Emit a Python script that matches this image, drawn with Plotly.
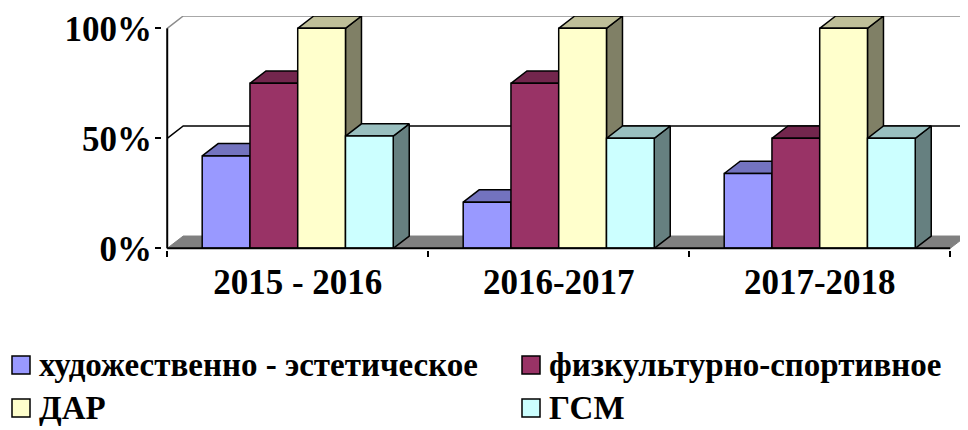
import plotly.graph_objects as go

# ---------------- data ----------------
categories = ["2015 - 2016", "2016-2017", "2017-2018"]
series_names = ["художественно - эстетическое", "физкультурно-спортивное", "ДАР", "ГСМ"]
art_values = [42, 21, 34]
sport_values = [75, 75, 50]
dar_values = [100, 100, 100]
gsm_values = [51, 50, 50]
y_tick_values = [0, 50, 100]
y_tick_labels = ["0%", "50%", "100%"]

series_values = [art_values, sport_values, dar_values, gsm_values]

# ---------------- style ----------------
front_colors = ["#9999FF", "#993366", "#FFFFCC", "#CCFFFF"]
top_colors = ["#7373BF", "#73264D", "#BFBF99", "#99BFBF"]
side_colors = ["#4D4D80", "#4D1A33", "#808066", "#668080"]
FONT = "Liberation Serif, DejaVu Serif Condensed, DejaVu Serif, serif"
PAGE_OFF = 8                      # default body margin of the html page
W, H = 968 - PAGE_OFF, 430 - PAGE_OFF
ML, MR, MT, MB = 162 - PAGE_OFF, 2, 16 - PAGE_OFF, 180
PW, PH = W - ML - MR, H - MT - MB
DX = 16 / 261.0      # depth offset in x units
DY = 12.3 / 2.2      # depth offset in y units
GROUP_W = 0.732
BAR_W = GROUP_W / 4
EDGE = dict(color="black", width=1.5)


def px_to_paper_x(px):
    return (px - PAGE_OFF - ML) / PW


def px_to_paper_y(py):
    return (H - MB - (py - PAGE_OFF)) / PH


fig = go.Figure()

n_cat = len(categories)
x_left = -0.5
x_right = n_cat - 0.5

# floor
fig.add_trace(go.Scatter(
    x=[x_left, x_right, x_right + DX, x_left + DX, x_left],
    y=[0, 0, DY, DY, 0],
    mode="lines", fill="toself", fillcolor="#808080",
    line=dict(color="#808080", width=1), hoverinfo="skip", showlegend=False))

# back wall gridlines and left wall diagonals
for v in y_tick_values[1:]:
    col = "black" if v < max(y_tick_values) else "#8c8c8c"
    fig.add_trace(go.Scatter(
        x=[x_left, x_left + DX, x_right + DX],
        y=[v, v + DY, v + DY],
        mode="lines", line=dict(color=col, width=1.5),
        hoverinfo="skip", showlegend=False))


def poly_trace(xs, ys, color, name):
    return go.Scatter(x=xs, y=ys, mode="lines", fill="toself", fillcolor=color,
                      line=EDGE, hoverinfo="skip", showlegend=False, name=name)


# bars (side, top, front) series by series so later bars cover earlier sides
for i, vals in enumerate(series_values):
    sx, sy, tx, ty, fx, fy = [], [], [], [], [], []
    for j, v in enumerate(vals):
        x0 = j - GROUP_W / 2 + i * BAR_W
        x1 = x0 + BAR_W
        sx += [x1, x1, x1 + DX, x1 + DX, x1, None]
        sy += [0, v, v + DY, DY, 0, None]
        tx += [x0, x1, x1 + DX, x0 + DX, x0, None]
        ty += [v, v, v + DY, v + DY, v, None]
        fx += [x0, x1, x1, x0, x0, None]
        fy += [0, 0, v, v, 0, None]
    fig.add_trace(poly_trace(sx, sy, side_colors[i], series_names[i]))
    fig.add_trace(poly_trace(tx, ty, top_colors[i], series_names[i]))
    fig.add_trace(poly_trace(fx, fy, front_colors[i], series_names[i]))

# front axis lines
fig.add_trace(go.Scatter(x=[x_left, x_left], y=[0, max(y_tick_values)], mode="lines",
                         line=dict(color="black", width=2), hoverinfo="skip", showlegend=False))
fig.add_trace(go.Scatter(x=[x_left, x_right], y=[0, 0], mode="lines",
                         line=dict(color="black", width=2), hoverinfo="skip", showlegend=False))

# legend (2 x 2 grid): swatch + text
legend_cols = [12, 522]   # swatch left edge, page px
legend_rows = [365, 408]  # row centre, page px
SW = 18
for i, name in enumerate(series_names):
    lx = legend_cols[i % 2]
    ly = legend_rows[i // 2]
    fig.add_shape(type="rect", xref="paper", yref="paper",
                  x0=px_to_paper_x(lx), x1=px_to_paper_x(lx + SW),
                  y0=px_to_paper_y(ly + SW / 2), y1=px_to_paper_y(ly - SW / 2),
                  fillcolor=front_colors[i], line=dict(color="black", width=1.5))
    fig.add_annotation(xref="paper", yref="paper",
                       x=px_to_paper_x(lx + 25), y=px_to_paper_y(ly),
                       xanchor="left", yanchor="middle", showarrow=False,
                       text=name,
                       font=dict(family=FONT, size=33, color="black", weight="bold"))

fig.update_layout(
    width=W, height=H,
    margin=dict(l=ML, r=MR, t=MT, b=MB),
    paper_bgcolor="white", plot_bgcolor="white",
    font=dict(family=FONT, color="black"),
    xaxis=dict(
        range=[-0.52, 2.5605],
        tickvals=list(range(n_cat)), ticktext=categories,
        ticks="", showgrid=False, zeroline=False, showline=False,
        tickfont=dict(family=FONT, size=35, color="black", weight="bold"),
        ticklabelstandoff=8,
        minor=dict(tickvals=[k - 0.5 for k in range(n_cat + 1)], ticks="outside",
                   ticklen=6, tickwidth=2, tickcolor="black", showgrid=False),
    ),
    yaxis=dict(
        range=[-0.76, 105.6],
        tickvals=y_tick_values, ticktext=y_tick_labels,
        ticks="outside", ticklen=6, tickwidth=2, tickcolor="black",
        showgrid=False, zeroline=False, showline=False,
        tickfont=dict(family=FONT, size=35, color="black", weight="bold"),
        ticklabelstandoff=-4,
    ),
    showlegend=False,
)

fig.write_html("out.html")
